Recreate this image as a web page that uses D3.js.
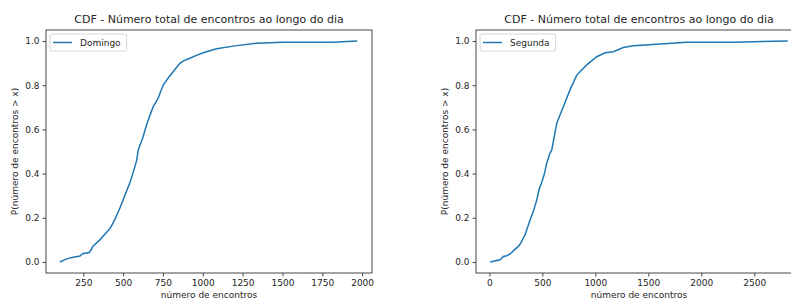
<!DOCTYPE html>
<html>
<head>
<meta charset="utf-8">
<script src="https://cdn.jsdelivr.net/npm/d3@7"></script>
<style>
body { margin: 0; background: #fff; }
text { font-family: "DejaVu Sans", sans-serif; fill: #262626; }
</style>
</head>
<body>
<svg id="svg1" width="791" height="300"></svg>
<script>
var svg1 = d3.select('#svg1');

var titleText = 'CDF - Número total de encontros ao longo do dia';
var xLabelText = 'número de encontros';
var yLabelText = 'P(número de encontros > x)';

// domingo (sunday)
var domingoX = [103, 145, 187, 229, 246, 287, 300, 309, 354, 385, 417, 450, 480, 510, 543, 565, 585, 595,
                626, 647, 669, 689, 720, 735, 752, 785, 814, 856, 880, 919, 960, 1003, 1087, 1191, 1337, 1504, 1818, 1969];
var domingoY = [0.0, 0.014, 0.021, 0.027, 0.037, 0.043, 0.055, 0.07, 0.10, 0.125, 0.15, 0.195, 0.244, 0.30, 0.36, 0.41, 0.46, 0.507,
                0.568, 0.62, 0.665, 0.703, 0.741, 0.77, 0.801, 0.835, 0.861, 0.899, 0.91, 0.922, 0.935, 0.947, 0.965, 0.977, 0.99, 0.994, 0.995, 1.0];

// segunda (monday)
var segundaX = [7, 101, 132, 164, 195, 226, 260, 290, 337, 384, 415, 447, 470, 494, 520, 541, 573, 589,
                636, 698, 761, 825, 919, 1013, 1092, 1170, 1264, 1358, 1579, 1862, 2302, 2815];
var segundaY = [0.0, 0.010, 0.025, 0.028, 0.036, 0.05, 0.065, 0.08, 0.123, 0.19, 0.23, 0.28, 0.33, 0.36, 0.40, 0.447, 0.493, 0.507,
                0.628, 0.703, 0.779, 0.846, 0.892, 0.929, 0.947, 0.952, 0.971, 0.979, 0.986, 0.994, 0.995, 1.0];

var xTicksLeft = [250, 500, 750, 1000, 1250, 1500, 1750, 2000];
var xTicksRight = [0, 500, 1000, 1500, 2000, 2500];
var yTicks = [0.0, 0.2, 0.4, 0.6, 0.8, 1.0];

function drawPanel(left, xs, ys, xDomain, xTicks, legendLabel) {
    var top = 30, h = 243, w = 326;
    var g = svg1.append('g').attr('transform', 'translate(' + left + ',' + top + ')');

    var xScale = d3.scaleLinear().domain(xDomain).range([0, w]);
    var yScale = d3.scaleLinear().domain([-0.05, 1.05]).range([h, 0]);

    var pts = xs.map(function(d, i) { return [d, ys[i]]; });
    var line = d3.line()
        .x(function(d) { return xScale(d[0]); })
        .y(function(d) { return yScale(d[1]); });

    g.append('path')
        .datum(pts)
        .attr('d', line)
        .attr('fill', 'none')
        .attr('stroke', '#1f77b4')
        .attr('stroke-width', 1.5);

    // frame
    g.append('rect')
        .attr('x', 0).attr('y', 0).attr('width', w).attr('height', h)
        .attr('fill', 'none').attr('stroke', '#333').attr('stroke-width', 0.9);

    var xAxis = g.append('g')
        .attr('transform', 'translate(0,' + h + ')')
        .call(d3.axisBottom(xScale).tickValues(xTicks).tickSize(3.5).tickPadding(3).tickFormat(d3.format('d')));
    var yAxis = g.append('g')
        .call(d3.axisLeft(yScale).tickValues(yTicks).tickSize(3.5).tickPadding(3).tickFormat(d3.format('.1f')));
    [xAxis, yAxis].forEach(function(a) {
        a.select('.domain').remove();
        a.selectAll('line').attr('stroke', '#333').attr('stroke-width', 0.9);
        a.selectAll('text').style('font-size', '9px').attr('fill', '#262626');
    });

    g.append('text')
        .attr('x', w / 2).attr('y', -7)
        .attr('text-anchor', 'middle')
        .style('font-size', '11px')
        .text(titleText);

    g.append('text')
        .attr('x', w / 2).attr('y', h + 24.5)
        .attr('text-anchor', 'middle')
        .style('font-size', '9px')
        .text(xLabelText);

    g.append('text')
        .attr('transform', 'translate(-28,' + (h / 2) + ') rotate(-90)')
        .attr('text-anchor', 'middle')
        .style('font-size', '9px')
        .text(yLabelText);

    // legend
    var lg = g.append('g').attr('transform', 'translate(4,4)');
    var lt = lg.append('text')
        .attr('x', 30).attr('y', 11.5)
        .style('font-size', '9px')
        .text(legendLabel);
    var tw = lt.node().getComputedTextLength();
    lg.insert('rect', 'text')
        .attr('x', 0).attr('y', 0).attr('width', 30 + tw + 6).attr('height', 17)
        .attr('rx', 2)
        .attr('fill', '#fff').attr('fill-opacity', 0.8)
        .attr('stroke', '#ccc').attr('stroke-width', 0.8);
    lg.append('line')
        .attr('x1', 3).attr('x2', 22).attr('y1', 8.5).attr('y2', 8.5)
        .attr('stroke', '#1f77b4').attr('stroke-width', 1.5);
}

drawPanel(46, domingoX, domingoY, [16, 2062], xTicksLeft, 'Domingo');
drawPanel(476, segundaX, segundaY, [-126, 2950], xTicksRight, 'Segunda');
</script>
</body>
</html>
